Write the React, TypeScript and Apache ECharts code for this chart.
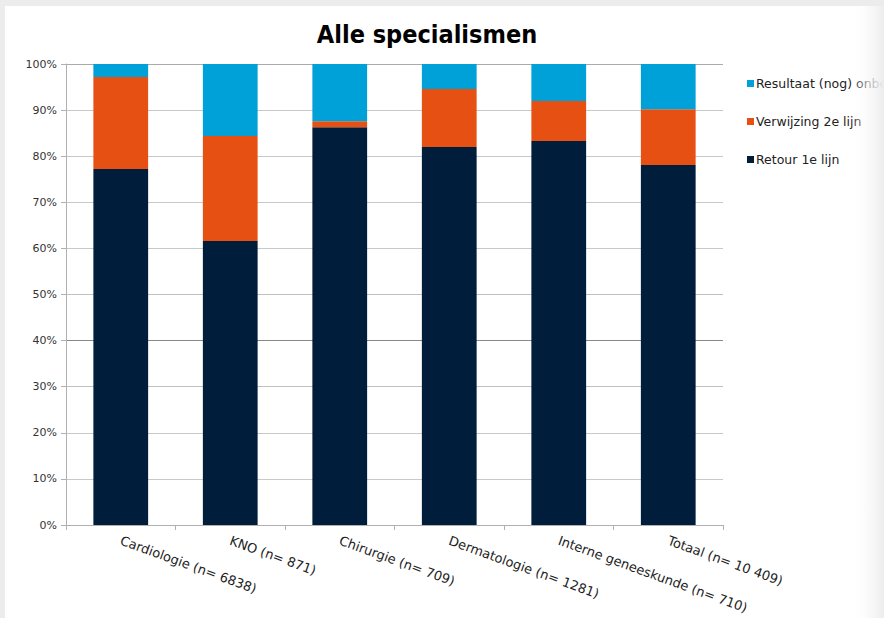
import React, { useEffect, useRef } from "react";
import * as echarts from "echarts";

const categories = [
  "Cardiologie (n= 6838)",
  "KNO (n= 871)",
  "Chirurgie (n= 709)",
  "Dermatologie (n= 1281)",
  "Interne geneeskunde (n= 710)",
  "Totaal (n= 10 409)",
];
const retour1eLijn = [77.2, 61.6, 86.3, 82.0, 83.3, 78.1];
const verwijzing2eLijn = [20.0, 22.8, 1.3, 12.6, 8.7, 12.1];
const resultaatOnbekend = [2.8, 15.6, 12.4, 5.4, 8.0, 9.8];

const seriesNames = ["Retour 1e lijn", "Verwijzing 2e lijn", "Resultaat (nog) onbekend"];
const seriesColors = ["#001e3c", "#e65012", "#00a1d9"];

export default function App() {
  const ref = useRef<HTMLDivElement>(null);
  useEffect(() => {
    if (!ref.current) return;
    const chart = echarts.init(ref.current, null, { renderer: "svg" });
    const font = "DejaVu Sans";
    const gridColors = ["#bbbbbb", "#c8c8c8", "#c8c8c8", "#c0c0c0", "#888888", "#c0c0c0", "#c8c8c8", "#c8c8c8", "#c8c8c8", "#c8c8c8", "#aaaaaa"];
    const dataSets = [retour1eLijn, verwijzing2eLijn, resultaatOnbekend];
    chart.setOption({
      animation: false,
      backgroundColor: "#ececec",
      title: {
        text: "Alle specialismen",
        left: 422,
        textAlign: "center",
        top: 17,
        textStyle: { fontFamily: "DejaVu Sans Condensed", fontWeight: "bold", fontSize: 25, color: "#000" },
      },
      graphic: [
        { type: "rect", z: -10, shape: { x: 5, y: 6, width: 879, height: 612 }, style: { fill: "#ffffff" } },
        {
          type: "rect",
          z: 100,
          shape: { x: 850, y: 6, width: 34, height: 612 },
          style: {
            fill: new echarts.graphic.LinearGradient(0, 0, 1, 0, [
              { offset: 0, color: "rgba(255,255,255,0)" },
              { offset: 0.6, color: "rgba(246,246,246,0.7)" },
              { offset: 1, color: "rgba(236,236,236,1)" },
            ]),
          },
        },
      ],
      legend: {
        orient: "vertical",
        left: 742,
        top: 72,
        itemGap: 25,
        itemWidth: 7,
        itemHeight: 7,
        icon: "rect",
        data: [seriesNames[2], seriesNames[1], seriesNames[0]],
        textStyle: { fontFamily: font, fontSize: 12.5, color: "#222", padding: [0, 0, 0, -3] },
      },
      grid: { left: 66, right: 161, top: 64, bottom: 93, containLabel: false },
      xAxis: {
        type: "category",
        data: categories,
        axisLine: { lineStyle: { color: "#b0b0b0" } },
        axisTick: { show: true, length: 5, lineStyle: { color: "#b0b0b0" } },
        axisLabel: {
          rotate: -20,
          interval: 0,
          margin: 15,
          fontFamily: font,
          fontSize: 13,
          color: "#222",
        },
      },
      yAxis: {
        type: "value",
        min: 0,
        max: 100,
        interval: 10,
        axisLine: { show: true, lineStyle: { color: "#b0b0b0" } },
        axisTick: { show: true, length: 5, lineStyle: { color: "#b0b0b0" } },
        axisLabel: { formatter: "{value}%", fontFamily: font, fontSize: 11, color: "#333", margin: 9 },
        splitLine: { show: true, lineStyle: { color: gridColors, width: 1 } },
      },
      series: seriesNames.map((name, i) => ({
        name,
        type: "bar",
        stack: "total",
        barWidth: "50%",
        data: dataSets[i],
        itemStyle: { color: seriesColors[i] },
      })),
    });
    return () => chart.dispose();
  }, []);
  return <div ref={ref} style={{ position: "fixed", left: 0, top: 0, width: 884, height: 618 }} />;
}
